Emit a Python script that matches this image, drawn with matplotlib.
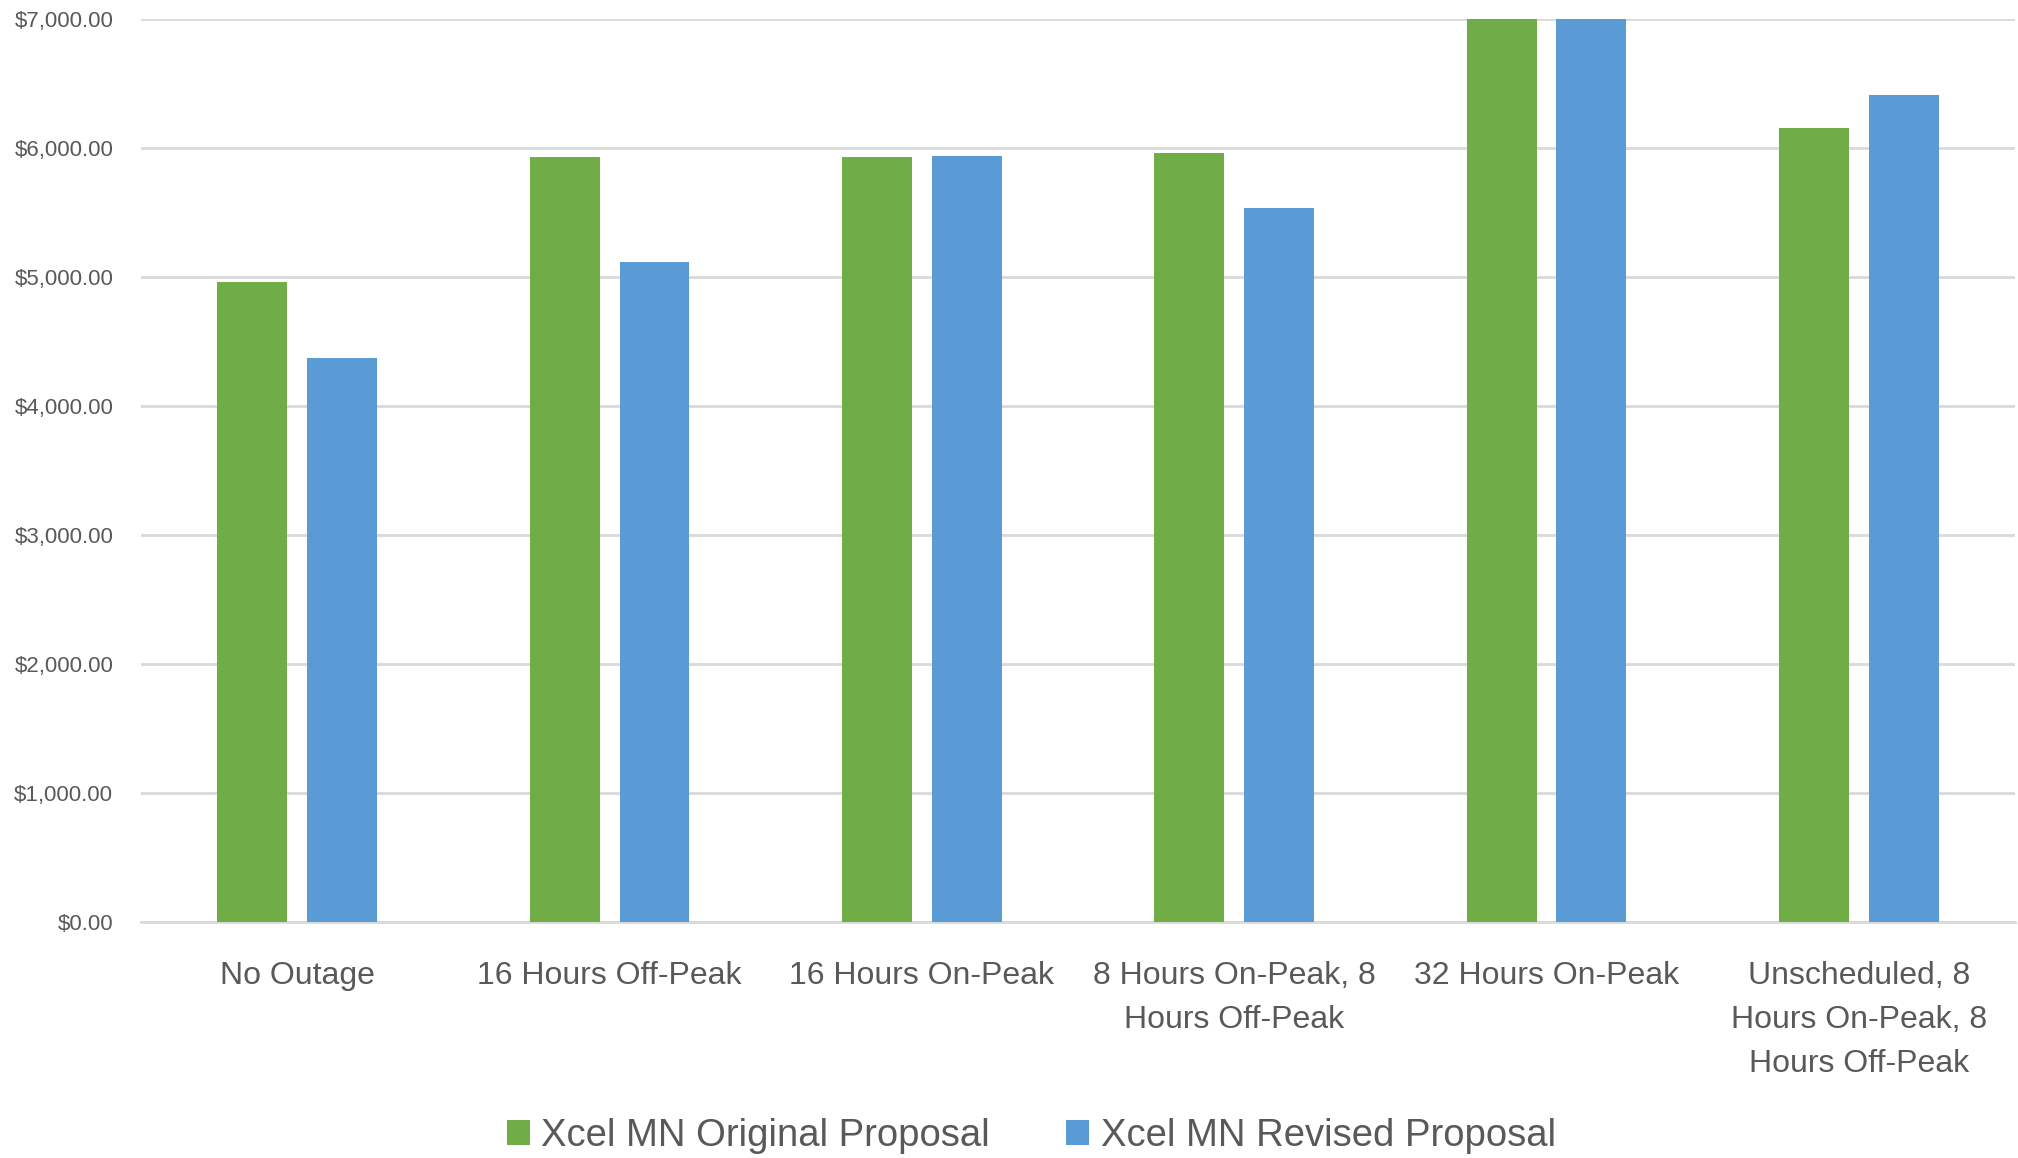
import matplotlib
matplotlib.use('Agg')
import matplotlib.pyplot as plt
import numpy as np

plt.rcParams['font.family'] = ['Liberation Sans', 'DejaVu Sans']

categories = ['No Outage', '16 Hours Off-Peak', '16 Hours On-Peak',
              '8 Hours On-Peak, 8\nHours Off-Peak', '32 Hours On-Peak',
              'Unscheduled, 8\nHours On-Peak, 8\nHours Off-Peak']
original = [4961, 5930, 5930, 5960, 7000, 6157]
revised = [4372, 5112, 5940, 5531, 7000, 6411]
yticks = [0, 1000, 2000, 3000, 4000, 5000, 6000, 7000]

green = '#70AD47'
blue = '#5B9BD5'
text_col = '#595959'

fig = plt.figure(figsize=(20.18, 11.58), dpi=100)
ax = fig.add_axes([0.0699, 0.204, 0.9286, 0.7796])

x = np.arange(len(categories))
w = 0.224
ax.bar(x - 0.144, original, w, color=green, label='Xcel MN Original Proposal', zorder=3)
ax.bar(x + 0.144, revised, w, color=blue, label='Xcel MN Revised Proposal', zorder=3)

ax.set_xlim(-0.5, len(categories) - 0.5)
ax.set_ylim(0, 7000)
ax.set_yticks(yticks)
ax.set_yticklabels(['${:,.2f}'.format(v) for v in yticks])
ax.set_xticks(x)
ax.set_xticklabels(categories, linespacing=1.62)

ax.grid(axis='y', color='#d9d9d9', linewidth=2, zorder=0)
for s in ['top', 'right', 'left']:
    ax.spines[s].set_visible(False)
ax.spines['bottom'].set_color('#d9d9d9')
ax.spines['bottom'].set_linewidth(2)

ax.tick_params(axis='y', length=0, pad=20, labelsize=16, labelcolor=text_col)
ax.tick_params(axis='x', length=0, pad=28, labelsize=23, labelcolor=text_col)

fig.legend(loc='center', bbox_to_anchor=(0.511, 0.019), ncol=2, frameon=False,
           fontsize=27.5, labelcolor=text_col, handlelength=0.6, handleheight=0.6,
           handletextpad=0.3, columnspacing=2.0)

fig.savefig('out.png', dpi=100)
